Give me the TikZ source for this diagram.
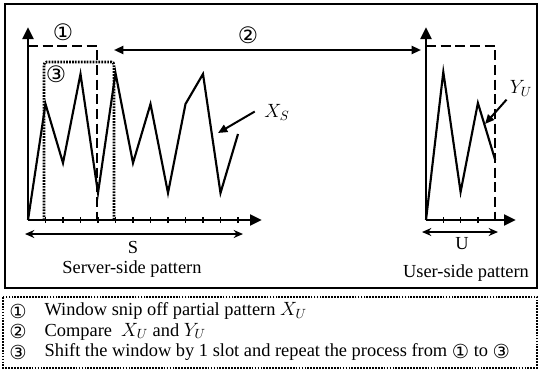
\documentclass[tikz,border=0pt]{standalone}
\usepackage{fontspec}
\setmainfont{Liberation Serif}
\newfontfamily\circfont{DejaVu Sans}
\usetikzlibrary{arrows.meta,calc,positioning}
\newcommand{\cnum}[2][17]{\raisebox{-0.2ex}{\circfont\fontsize{#1}{#1}\selectfont #2}}

\begin{document}
\begin{tikzpicture}[x=0.75pt,y=-0.75pt]
    \tikzstyle{every node}=[font=\fontsize{13.8}{16}\selectfont, inner sep=1pt]
    \tikzstyle{circnum}=[inner sep=0pt]
    \tikzstyle{axis}=[line width=2.2pt, -{Triangle[length=9pt,width=8pt]}]
    \tikzstyle{wave}=[line width=1.6pt, line join=miter]
    \tikzstyle{window}=[line width=2pt, dash pattern=on 7.5pt off 3.5pt]
    \tikzstyle{shifted}=[line width=2pt, dash pattern=on 1.3pt off 0.9pt, rounded corners=2pt]
    \tikzstyle{pointer}=[line width=1.5pt, -{Triangle[length=7pt,width=6pt]}]
    \tikzstyle{span}=[line width=1.5pt, {Stealth[length=7pt,width=6pt]}-{Stealth[length=7pt,width=6pt]}]
    \useasboundingbox (0,0) rectangle (539,375);
    \draw[line width=2pt] (5,4) rectangle (537,288); %
    \draw[line width=2.2pt, dash pattern=on 1.3pt off 0.9pt] (3,297) rectangle (537,368); %
    % server side
    \coordinate (So) at (28,220);
    \coordinate (Sy) at (28,27);
    \coordinate (Sx) at (262,220);
    \draw[wave] (So) \foreach \y [count=\k] in {104,163,74,193,73,163,104,193,104,74,193,134} { -- (28+\k*17.5,\y) };
    \draw[window] (28,46) -- (97,46) -- (97,220); %
    \draw[shifted] (44,220) -- (44,62) -- (114,62) -- (114,220); %
    \foreach \k in {1,...,12} \draw[line width=1pt] (28+\k*17.5,217) -- (28+\k*17.5,223);
    \draw[axis] (So) -- (Sy); %
    \draw[axis] (So) -- (Sx); %
    \node[circnum] (c1) at (63,32) {\cnum{①}};
    \node[circnum] (c3) at (56,74) {\cnum{③}};
    \node (XS) at (277,112) {$X_S$};
    \coordinate (XStip) at (218,133);
    \draw[pointer, shorten <=7pt] (XS.160) -- (XStip); %
    \coordinate (Sl) at (25,234);
    \coordinate (Sr) at (243,234);
    \draw[span] (Sl) -- (Sr); %
    \node (S) at (133,247) {S};
    \node (Slabel) at (132,269) {Server-side pattern};
    % user side
    \coordinate (Uo) at (426,220);
    \coordinate (Uy) at (426,27);
    \coordinate (Ux) at (516,220);
    \draw[wave] (Uo) \foreach \y [count=\k] in {72,192,103,160} { -- (426+\k*17.3,\y) };
    \draw[window] (426,46) -- (495,46) -- (495,220); %
    \foreach \k in {1,...,3} \draw[line width=1pt] (426+\k*17.3,217) -- (426+\k*17.3,223);
    \draw[axis] (Uo) -- (Uy); %
    \draw[axis] (Uo) -- (Ux); %
    \node (YU) at (521,88) {$Y_U$};
    \coordinate (YUtip) at (485,124);
    \draw[pointer, shorten <=2pt] (YU.south west) -- (YUtip); %
    \coordinate (Ul) at (422,232);
    \coordinate (Ur) at (498,232);
    \draw[span] (Ul) -- (Ur); %
    \node (U) at (462,244) {U};
    \node (Ulabel) at (466,273) {User-side pattern};
    % compare
    \coordinate (Cl) at (114,50);
    \coordinate (Cr) at (421,50);
    \draw[pointer, {Triangle[length=7pt,width=6pt]}-{Triangle[length=7pt,width=6pt]}] (Cl) -- (Cr); %
    \node[circnum] (c2) at (248,35) {\cnum{②}};
    % legend
    \node[circnum] (n1) at (18,311) {\cnum[14.5]{①}};
    \node[circnum] (n2) at (18,331.5) {\cnum[14.5]{②}};
    \node[circnum] (n3) at (18,352) {\cnum[14.5]{③}};
    \node[anchor=west] (t1) at (43,311) {Window snip off partial pattern $X_U$};
    \node[anchor=west] (t2) at (43,331.5) {Compare\ \ $X_U$ and $Y_U$};
    \node[anchor=west] (t3) at (43,352) {Shift the window by 1 slot and repeat the process from \cnum[14.5]{①} to \cnum[14.5]{③}};
\end{tikzpicture}
\end{document}
